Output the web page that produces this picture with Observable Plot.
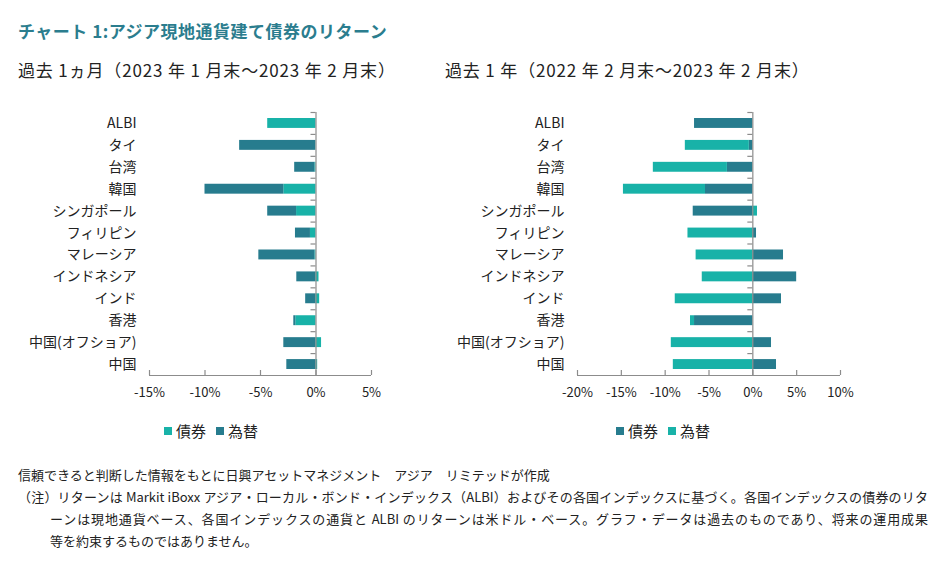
<!DOCTYPE html>
<html>
<head>
<meta charset="utf-8">
<script src="https://cdn.jsdelivr.net/npm/d3@7"></script>
<script src="https://cdn.jsdelivr.net/npm/@observablehq/plot@0.6"></script>
<style>
  html, body { margin: 0; padding: 0; background: #fff; }
  body { width: 944px; height: 577px; position: relative; overflow: hidden;
         font-family: "Noto Sans CJK JP", "Noto Sans", sans-serif; color: #222; }
  .abs { position: absolute; white-space: nowrap; }
  #title { left: 18px; top: 18px; font-size: 17px; font-weight: bold; color: #2b7d8e; letter-spacing: 0.5px; }
  .sub { top: 57px; font-size: 17px; color: #222; letter-spacing: 0.85px; }
  .legend { top: 420px; font-size: 15px; display: flex; align-items: center; }
  .legend .sw { width: 8px; height: 8px; display: inline-block; margin-right: 4px; }
  .legend .it { display: flex; align-items: center; margin-right: 10px; }
  .note { left: 18px; font-size: 13px; color: #222; }
  .just { text-align: justify; text-align-last: justify; }
  svg { max-width: none !important; }
</style>
</head>
<body>
<div id="title" class="abs">チャート 1:アジア現地通貨建て債券のリターン</div>
<div class="abs sub" style="left:18px">過去 1ヵ月（2023 年 1 月末～2023 年 2 月末）</div>
<div class="abs sub" style="left:445px">過去 1 年（2022 年 2 月末～2023 年 2 月末）</div>
<div id="left" class="abs" style="left:0px; top:90px"></div>
<div id="right" class="abs" style="left:430px; top:90px"></div>
<div id="legL" class="abs legend" style="left:164px"></div>
<div id="legR" class="abs legend" style="left:616px"></div>
<div class="abs note" style="top:465px">信頼できると判断した情報をもとに日興アセットマネジメント　アジア　リミテッドが作成</div>
<div class="abs note just" style="top:487px; width:910px">（注）リターンは Markit iBoxx アジア・ローカル・ボンド・インデックス（ALBI）およびその各国インデックスに基づく。各国インデックスの債券のリタ</div>
<div class="abs note just" style="top:509px; left:50px; width:878px">ーンは現地通貨ベース、各国インデックスの通貨と ALBI のリターンは米ドル・ベース。グラフ・データは過去のものであり、将来の運用成果</div>
<div class="abs note" style="top:531px; left:50px">等を約束するものではありません。</div>
<script>
const categories = ["ALBI", "タイ", "台湾", "韓国", "シンガポール", "フィリピン", "マレーシア", "インドネシア", "インド", "香港", "中国(オフショア)", "中国"];
const seriesNames = ["債券", "為替"];
// 過去1ヵ月 (%)
const bond1m = [-4.35, -0.03, -0.1, -2.9, -1.75, -0.5, -0.1, 0.27, 0.33, -1.82, 0.5, 0.15];
const fx1m   = [0, -6.85, -1.82, -7.1, -2.6, -1.35, -5.05, -1.73, -0.93, -0.18, -2.9, -2.63];
// 過去1年 (%)
const bond1y = [-6.65, -0.4, -2.9, -5.4, -6.8, 0.42, 3.5, 5.0, 3.27, -6.65, 2.13, 2.7];
const fx1y   = [0, -7.3, -8.45, -9.36, 0.53, -7.4, -6.47, -5.77, -8.85, -0.46, -9.3, -9.07];
const xTicks1m = [-15, -10, -5, 0, 5];
const xTicks1y = [-20, -15, -10, -5, 0, 5, 10];

const LIGHT = "#18b2a8", DARK = "#277c8e", GRID = "#8c8c8c";

function rows(bond, fx) {
  const out = [];
  categories.forEach((c, i) => out.push({cat: c, series: seriesNames[0], value: bond[i]}));
  categories.forEach((c, i) => out.push({cat: c, series: seriesNames[1], value: fx[i]}));
  return out;
}

function chart(data, ticks, colors, width, mL, mR) {
  const height = 320, mT = 22, mB = 35;
  const innerH = height - mT - mB;
  const step = innerH / categories.length;
  return Plot.plot({
    width, height,
    marginLeft: mL, marginRight: mR, marginTop: mT, marginBottom: mB,
    style: {fontFamily: "'Noto Sans CJK JP', 'Noto Sans', sans-serif", fontSize: "13px", color: "#222", background: "#fff"},
    x: {domain: [ticks[0], ticks[ticks.length - 1]]},
    y: {domain: categories, padding: 0, round: false},
    color: {domain: seriesNames, range: colors},
    marks: [
      Plot.barX(data, {x: "value", y: "cat", fill: "series", insetTop: 6, insetBottom: 6}),
      Plot.ruleX([0], {stroke: GRID, strokeWidth: 1.2}),
      Plot.ruleY(categories, {y: d => d, x1: 0, x2: 0, dy: -step / 2, insetLeft: -5, stroke: GRID, strokeWidth: 1.2}),
      Plot.ruleY([categories[categories.length - 1]], {y: d => d, x1: ticks[0], x2: ticks[ticks.length - 1], dy: step / 2, stroke: GRID, strokeWidth: 1.2}),
      Plot.ruleX(ticks, {x: d => d, insetTop: innerH - 5, stroke: GRID, strokeWidth: 1.2}),
      Plot.axisX({ticks, tickSize: 0, tickPadding: 12, tickFormat: d => d + "%", fontSize: 13, label: null}),
      Plot.axisY({tickSize: 0, tickPadding: 13, fontSize: 14, label: null})
    ]
  });
}

document.getElementById("left").append(chart(rows(bond1m, fx1m), xTicks1m, [LIGHT, DARK], 400, 149, 29));
document.getElementById("right").append(chart(rows(bond1y, fx1y), xTicks1y, [DARK, LIGHT], 430, 147, 20));

function legend(id, colors) {
  const el = document.getElementById(id);
  seriesNames.forEach((s, i) => {
    const it = document.createElement("span");
    it.className = "it";
    it.innerHTML = `<span class="sw" style="background:${colors[i]}"></span><span>${s}</span>`;
    el.append(it);
  });
}
legend("legL", [LIGHT, DARK]);
legend("legR", [DARK, LIGHT]);
</script>
</body>
</html>
